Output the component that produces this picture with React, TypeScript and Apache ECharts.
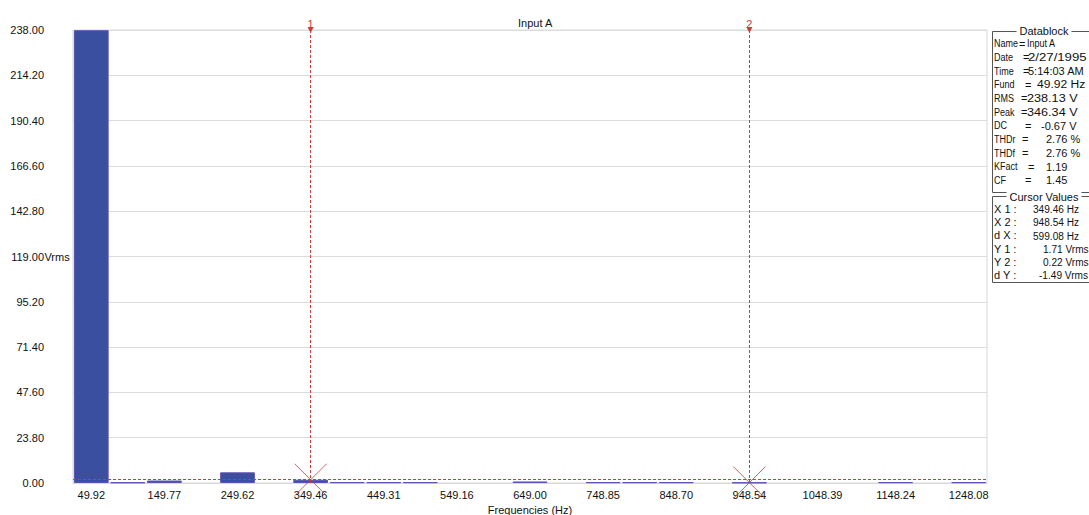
import React, { useEffect, useRef } from 'react';
import * as echarts from 'echarts';

// ---- data ----
const categories = ['49.92','99.85','149.77','199.69','249.62','299.54','349.46','399.39','449.31','499.23','549.16','599.08','649.00','698.93','748.85','798.77','848.70','898.62','948.54','998.47','1048.39','1098.31','1148.24','1198.16','1248.08'];
const amplitudes = [237.9,0.3,1.3,0,5.6,0,1.71,0.4,0.4,0.4,0,0,0.8,0,0.4,0.4,0.4,0,0.22,0,0,0,0.4,0,0.4];
const yMin = 0;
const yMax = 238;
const yStep = 23.8;
const yUnitTick = 119;
const cursorNames = ['1', '2'];
const cursorX = ['349.46', '948.54'];
const cursorY = [1.71, 0.22];

const dbLabels = ['Name','Date','Time','Fund','RMS','Peak','DC','THDr','THDf','KFact','CF'];
const dbValues = ['Input A','2/27/1995','5:14:03 AM','49.92 Hz','238.13 V','346.34 V','-0.67 V','2.76 %','2.76 %','1.19','1.45'];
const cvLabels = ['X 1 :','X 2 :','d X :','Y 1 :','Y 2 :','d Y :'];
const cvValues = ['349.46 Hz','948.54 Hz','599.08 Hz','1.71 Vrms','0.22 Vrms','-1.49 Vrms'];

// ---- layout ----
const FONT = '"Liberation Sans", Arial, sans-serif';
const RED = '#c83c3c';
const dbEqX = [1019,1023,1023,1025,1021,1021,1025,1022,1022,1028,1025];
const dbValX = [1027,1028,1028,1037,1027,1027,1041,1046,1046,1046,1046];
const dbValScale = [0.82,1.2,1.0,1.1,1.15,1.15,1.0,1.0,1.0,1.0,1.0];
const cvValX = [1033,1033,1033,1043,1043,1039];

function panelText(text: string, x: number, y: number, scaleX: number) {
  return {
    type: 'text', x, y, scaleX, silent: true,
    style: { text, fill: '#111', font: `11px ${FONT}`, align: 'left', verticalAlign: 'middle' },
  };
}

export default function App() {
  const ref = useRef<HTMLDivElement>(null);
  useEffect(() => {
    if (!ref.current) return;
    const chart = echarts.init(ref.current, undefined, { renderer: 'svg' });

    const graphics: any[] = [];
    // Datablock panel
    graphics.push({ type: 'rect', silent: true, shape: { x: 992.5, y: 31.5, width: 120, height: 161 }, style: { fill: '#fff', stroke: '#555', lineWidth: 1 } });
    graphics.push({ type: 'text', x: 1044, y: 31, silent: true, style: { text: 'Datablock', fill: '#111', font: `11px ${FONT}`, align: 'center', verticalAlign: 'middle', backgroundColor: '#fff', padding: [0, 3] } });
    dbLabels.forEach((l, i) => {
      const y = 43.5 + i * 13.67;
      graphics.push(panelText(l, 994, y, 0.82));
      graphics.push(panelText('=', dbEqX[i], y, 1));
      graphics.push(panelText(dbValues[i], dbValX[i], y, dbValScale[i]));
    });
    // Cursor values panel
    graphics.push({ type: 'rect', silent: true, shape: { x: 992.5, y: 196.5, width: 120, height: 86 }, style: { fill: '#fff', stroke: '#555', lineWidth: 1 } });
    graphics.push({ type: 'text', x: 1044, y: 196.5, silent: true, style: { text: 'Cursor Values', fill: '#111', font: `11px ${FONT}`, align: 'center', verticalAlign: 'middle', backgroundColor: '#fff', padding: [0, 3] } });
    cvLabels.forEach((l, i) => {
      const y = 209 + i * 13.2;
      graphics.push(panelText(l, 994, y, 1));
      graphics.push(panelText(cvValues[i], cvValX[i], y, 0.92));
    });

    chart.setOption({
      animation: false,
      backgroundColor: '#fff',
      textStyle: { fontFamily: FONT },
      title: { text: 'Input A', left: 513, top: 12, textStyle: { fontSize: 11, fontWeight: 'normal', color: '#111', fontFamily: FONT } },
      grid: { left: 73, right: 102, top: 30, bottom: 32, outerBoundsMode: 'none', containLabel: false, show: true, borderColor: '#d8d8d8', borderWidth: 1, backgroundColor: '#fff' },
      xAxis: {
        type: 'category', data: categories,
        name: 'Frequencies (Hz)', nameLocation: 'middle', nameGap: 20,
        nameTextStyle: { fontSize: 11, color: '#111', fontFamily: FONT },
        axisLine: { show: true, lineStyle: { color: '#d8d8d8' } },
        axisTick: { show: false },
        axisLabel: { interval: 1, margin: 6, fontSize: 11, color: '#111', fontFamily: FONT },
        splitLine: { show: false },
      },
      yAxis: {
        type: 'value', min: yMin, max: yMax, interval: yStep,
        axisLine: { show: false }, axisTick: { show: false },
        splitLine: { show: true, lineStyle: { color: '#dcdcdc', width: 1 } },
        axisLabel: {
          margin: 3, align: 'right', fontSize: 11, color: '#111', fontFamily: FONT,
          formatter: (v: number) => v.toFixed(2) + (Math.abs(v - yUnitTick) < 1e-6 ? '{u|Vrms}' : '{u| }'),
          rich: { u: { width: 26, align: 'left', fontSize: 11, color: '#111', fontFamily: FONT } },
        },
      },
      series: [
        {
          type: 'bar', data: amplitudes.map((v) => (v > 0 ? v : null)), barCategoryGap: '5%',
          itemStyle: { color: '#3b4fa1', borderColor: '#5a52b4', borderWidth: 1 },
          markLine: {
            silent: true, animation: false,
            symbol: ['none', 'path://M0,0L10,0L5,10Z'], symbolSize: [6, 6],
            lineStyle: { color: RED, type: [3, 2], width: 1 },
            label: { show: true, position: 'end', formatter: '{b}', color: RED, fontSize: 11, distance: 1, fontFamily: FONT },
            data: cursorX.map((x, i) => ({ xAxis: x, name: cursorNames[i] })),
          },
        },
        {
          type: 'scatter',
          data: cursorX.map((x, i) => [x, cursorY[i]]),
          symbol: 'path://M0,0L10,10M10,0L0,10', symbolSize: 32,
          itemStyle: { color: 'none', borderColor: RED, borderWidth: 1, opacity: 0.8 },
          silent: true, z: 5,
          markLine: {
            silent: true, animation: false, symbol: ['none', 'none'],
            lineStyle: { color: RED, type: [3, 2], width: 1 },
            label: { show: false },
            data: [{ yAxis: cursorY[0] }],
          },
        },
      ],
      graphic: graphics,
    });
    return () => chart.dispose();
  }, []);
  return <div ref={ref} style={{ position: 'absolute', left: 0, top: 0, width: 1089, height: 515, background: '#fff' }} />;
}
